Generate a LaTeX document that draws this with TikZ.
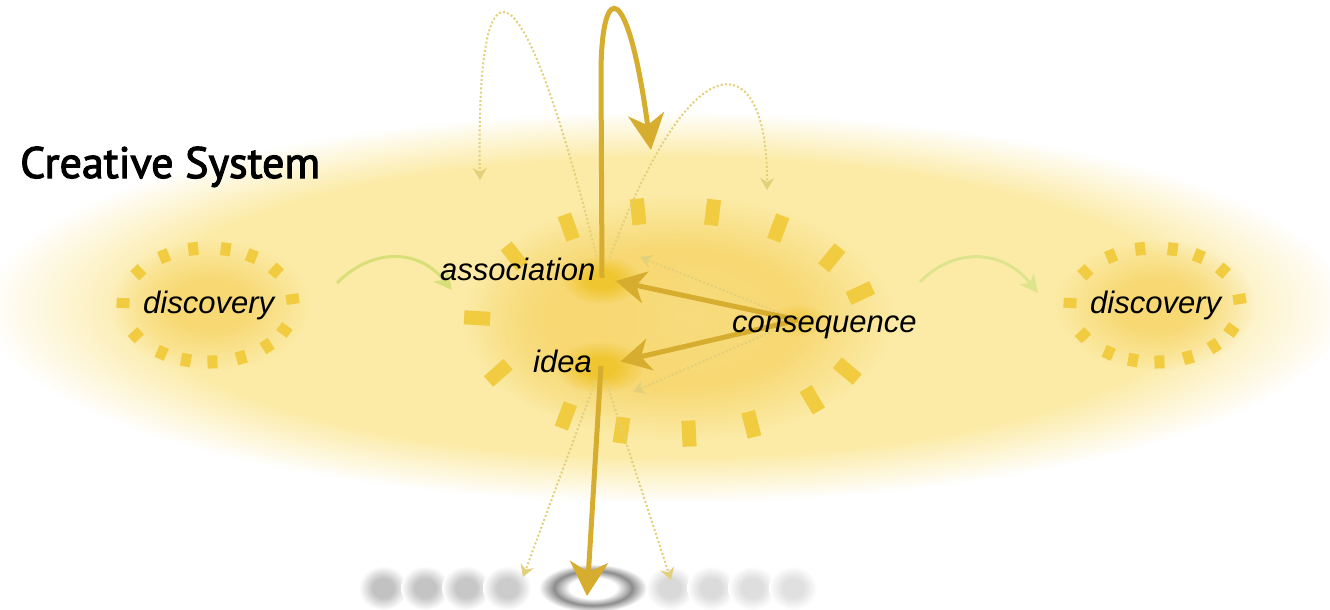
\documentclass[tikz,border=0pt]{standalone}
\usepackage{fontspec}
\newfontfamily\lblfont{Liberation Sans}
\newfontfamily\ttlfont{PT Sans}[FakeBold=2.5]
\usetikzlibrary{arrows.meta,fadings}

\definecolor{glowpale}{HTML}{FCEBA6}
\definecolor{glowmid}{HTML}{F7D872}
\definecolor{glowspot}{HTML}{F0C630}
\definecolor{raycol}{HTML}{F1CB40}
\definecolor{gold}{HTML}{D6AD2F}
\definecolor{dotgold}{HTML}{E2D07A}
\definecolor{leaf}{HTML}{D8DF78}
\colorlet{blobc}{black!20}

% soft-edged masks: opaque plateau, fading out to the path's rim
\pgfdeclareradialshading{plateaumask}{\pgfpointorigin}{color(0bp)=(transparent!0); color(19bp)=(transparent!0); color(25bp)=(transparent!100); color(50bp)=(transparent!100)}
\pgfdeclarefading{plateau}{\pgfuseshading{plateaumask}}
\pgfdeclareradialshading{cushionmask}{\pgfpointorigin}{color(0bp)=(transparent!25); color(14bp)=(transparent!0); color(25bp)=(transparent!100); color(50bp)=(transparent!100)}
\pgfdeclarefading{cushion}{\pgfuseshading{cushionmask}}
\pgfdeclareradialshading{bloommask}{\pgfpointorigin}{color(0bp)=(transparent!0); color(9bp)=(transparent!0); color(25bp)=(transparent!100); color(50bp)=(transparent!100)}
\pgfdeclarefading{bloom}{\pgfuseshading{bloommask}}

% blurred grey marks along the bottom
\pgfdeclareradialshading[blobc]{blob}{\pgfpointorigin}{color(0bp)=(blobc); color(11bp)=(blobc); color(25bp)=(white); color(50bp)=(white)}
\pgfdeclareradialshading{ringshade}{\pgfpointorigin}{color(0bp)=(white); color(11bp)=(white); color(18bp)=(black!45); color(25bp)=(white); color(50bp)=(white)}

\begin{document}
\begin{tikzpicture}[x=1pt,y=-1pt,
  lbl/.style={font=\lblfont\itshape\fontsize{31}{31}\selectfont, inner sep=0pt, anchor=base west},
  goldline/.style={draw=gold, line width=5pt},
  dotline/.style={draw=dotgold, line width=2pt, dash pattern=on 2pt off 2.2pt,
    -{Stealth[length=12pt,width=14pt,inset=4pt,fill=dotgold]}},
  leafline/.style={draw=leaf, line width=3pt, -{Stealth[length=18pt,width=18pt,inset=5pt]}},
  bigray/.style={fill=raycol},
]
\useasboundingbox (0,0) rectangle (1330,610);
\fill[white] (0,0) rectangle (1330,610);

% the system's glow and its inner clusters
\fill[glowpale, path fading=plateau] (667,307) ellipse (680 and 195);
\fill[glowmid, path fading=cushion] (678,318) ellipse (215 and 122);
\fill[glowmid, path fading=bloom, opacity=0.6] (585,322) ellipse (110 and 95);
\fill[glowmid, path fading=bloom] (210,305) ellipse (100 and 66);
\fill[glowmid, path fading=bloom] (1155,305) ellipse (100 and 66);
\fill[glowspot, path fading=bloom] (602,280) ellipse (40 and 24);
\fill[glowspot, path fading=bloom] (600,367) ellipse (44 and 26);
\fill[glowspot, path fading=bloom, opacity=0.5] (798,320) ellipse (30 and 16);

% rays round the central cluster
\begin{scope}[shift={(672,322)}]
  \foreach \t in {178,144,122,100,78,57,35,15,-26,-44,-66,-85,-105,-123,-153}
    \fill[bigray, shift={({195*cos(\t)},{-112*sin(\t)})}, rotate={atan2(195*sin(\t),112*cos(\t))}]
      (-13,-7) rectangle (13,7);
\end{scope}
% rays round the two discoveries
\foreach \cx in {208,1155}{
  \begin{scope}[shift={(\cx,305)}]
    \foreach \t in {178,145,121,100,78,59,37,6,-26,-46,-67,-87,-105,-123,-148}
      \fill[bigray, shift={({85*cos(\t)},{-57*sin(\t)})}, rotate={atan2(85*sin(\t),57*cos(\t))}]
        (-6.5,-5) rectangle (6.5,5);
  \end{scope}
}

% bottom row of blurred marks
\foreach \x/\g in {383/24,425/23,466/22,507/20,670/15,711/14,752/13,793/12}{
  \colorlet{blobc}{black!\g}
  \shade[shading=blob] (\x,588) ellipse (24 and 22);
}
\shade[shading=ringshade] (593,588) ellipse (54 and 24);

% anchor points of the cluster
\coordinate (pa) at (602,278);
\coordinate (pi) at (601,366);
\coordinate (pc) at (798,320);
\coordinate (loopend) at (651,150);
\coordinate (downend) at (587,596);
\coordinate (arcL) at (480,180);
\coordinate (arcR) at (767,190);
\coordinate (backA) at (640,257);
\coordinate (backI) at (633,392);
\coordinate (outL) at (523,577);
\coordinate (outR) at (671,580);
\coordinate (gl0) at (337,283);
\coordinate (gl1) at (452,290);
\coordinate (gr0) at (920,282);
\coordinate (gr1) at (1038,293);

% faint dotted paths
\draw[dotline, shorten <=22pt] (pa) .. controls (515,-70) and (476,-40) .. (arcL);
\draw[dotline, shorten <=22pt] (pa) .. controls (695,30) and (768,50) .. (arcR);
\draw[dotline, shorten <=12pt] (pc) -- (backA);
\draw[dotline, shorten <=14pt] (pc) -- (backI);
\draw[dotline, shorten <=16pt] (pi) -- (outL);
\draw[dotline, shorten <=16pt] (pi) -- (outR);

% green transitions between discoveries
\draw[leafline] (gl0) .. controls (372,248) and (418,248) .. (gl1);
\draw[leafline, draw=leaf!85] (gr0) .. controls (955,246) and (1004,250) .. (gr1);

% main solid paths
\draw[goldline, -{Stealth[length=36pt,width=36pt,inset=11pt]}]
  (pa) -- (601,70) .. controls (602,-20) and (628,-20) .. (loopend);
\draw[goldline, -{Stealth[length=30pt,width=32pt,inset=9pt]}, shorten >=14pt] (pc) -- (pa);
\draw[goldline, -{Stealth[length=30pt,width=32pt,inset=9pt]}, shorten >=20pt] (pc) -- (pi);
\draw[goldline, -{Stealth[length=34pt,width=38pt,inset=10pt]}] (pi) -- (downend);

% labels
\node[font=\ttlfont\fontsize{44}{44}\selectfont, anchor=base west, inner sep=0pt] (title) at (20,178) {Creative System};
\node[lbl] (discL) at (143,313) {discovery};
\node[lbl] (discR) at (1090,313) {discovery};
\node[lbl] (assoc) at (440,280) {association};
\node[lbl] (idea) at (533,372) {idea};
\node[lbl] (conseq) at (732,332) {consequence};
\end{tikzpicture}
\end{document}
